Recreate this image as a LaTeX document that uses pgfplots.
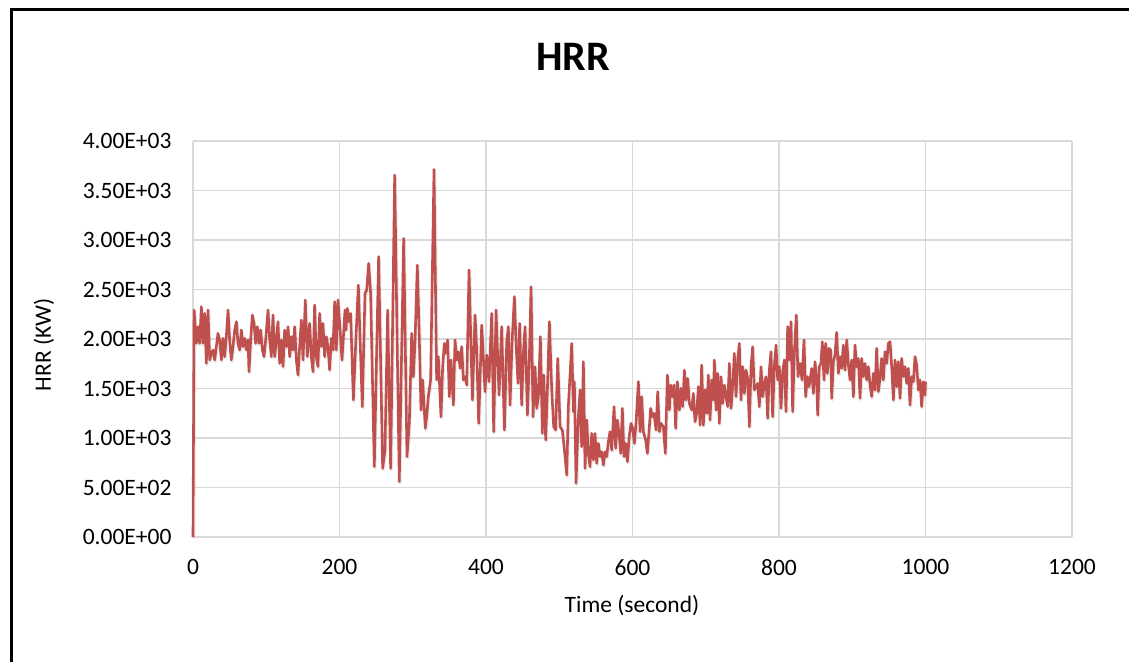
\documentclass[border=0pt]{standalone}
\usepackage{pgfplots}
\pgfplotsset{compat=1.18}
\usepackage{fontspec}
\setmainfont{Carlito}
\definecolor{hrr}{RGB}{192,80,77}
\definecolor{gridc}{RGB}{217,217,217}
\begin{document}
\begin{tikzpicture}[x=1pt,y=1pt]
\useasboundingbox (0,0) rectangle (1129,662);
\draw[line width=3pt] (11,0) -- (11,652) -- (1129,652);
\node[font=\fontsize{42}{48}\selectfont\bfseries] at (573,605) {HRR};
\node[font=\fontsize{23.5}{28}\selectfont, rotate=90] at (44,317) {HRR (KW)};
\node[font=\fontsize{23.5}{28}\selectfont] at (632,56) {Time (second)};
\begin{axis}[
  at={(193pt,125pt)}, anchor=south west,
  scale only axis, width=879pt, height=396pt,
  xmin=0, xmax=1200, ymin=0, ymax=4000,
  xtick={0,200,400,600,800,1000,1200},
  xticklabels={0,200,400,600,800,1000,1200},
  ytick={0,500,1000,1500,2000,2500,3000,3500,4000},
  yticklabels={0.00E+00,5.00E+02,1.00E+03,1.50E+03,2.00E+03,2.50E+03,3.00E+03,3.50E+03,4.00E+03},
  grid=major,
  major grid style={gridc, line width=1.7pt},
  axis line style={draw=none},
  tick style={draw=none},
  ticklabel style={font=\fontsize{23.5}{28}\selectfont},
  xticklabel style={yshift=-19pt},
  yticklabel style={xshift=-18pt},
  clip=false,
]
\addplot[black!25, opacity=0.35, line width=3pt, line join=round, mark=none, transform canvas={xshift=0.8pt,yshift=-1.5pt}] coordinates {
(0,0)(1.5,2293)(4.5,1956)(6.8,2125)(9.1,1956)(11.4,2327)(13.7,1956)(15.9,2259)(18.2,1754)(20.5,2293)
(22.8,1788)(25.0,1855)(27.3,1889)(29.6,1788)(34.1,2057)(36.4,1990)(38.7,1788)(40.9,2007)(43.2,1822)(45.5,2024)
(47.8,2293)(50.0,1990)(52.3,1788)(54.6,1923)(56.9,2091)(59.2,2175)(61.4,1956)(63.7,1889)(66.0,2091)(68.3,1923)
(70.5,2007)(72.8,1889)(75.1,1990)(76.4,1670)(78.7,1990)(81.0,2242)(83.3,2158)(85.5,1956)(87.8,2125)(90.1,1956)
(92.4,2091)(94.7,1889)(96.9,1822)(99.2,1990)(102.4,2293)(104.7,1990)(106.9,1822)(109.2,2242)(111.5,1822)(113.8,1990)
(116.0,2175)(118.3,1754)(120.6,1990)(122.9,1721)(125.1,2091)(127.4,1923)(129.7,2125)(132.0,1822)(134.3,2024)(136.5,1889)
(138.8,2125)(141.1,1788)(143.3,1636)(145.6,1923)(147.9,2192)(150.2,1788)(153.3,2394)(156.0,1822)(159.2,2158)(161.5,1822)
(163.8,1670)(166.0,2343)(168.3,1822)(170.6,1721)(172.9,2259)(175.1,1923)(177.4,2158)(179.7,1822)(182.0,2024)(184.2,1923)
(186.5,1687)(188.8,2007)(191.1,1889)(193.4,2377)(195.6,1889)(197.9,2394)(200.2,2158)(203.4,1788)(207.5,2293)(208.8,2091)
(210.7,2310)(212.9,2175)(215.2,2259)(218.9,1384)(222.5,2024)(225.7,2545)(231.1,1316)(234.8,2461)(237.1,2495)(239.8,2764)
(242.5,2461)(247.5,710)(253.4,2832)(258.9,693)(262.1,879)(265.7,2293)(269.8,693)(275.3,3656)(281.6,559)(287.6,3017)
(292.1,811)(295.3,1148)(298.5,2057)(300.8,1619)(303.0,1956)(306.2,2747)(308.9,2024)(311.2,1283)(313.5,1586)(317.1,1098)
(319.0,1215)(321.2,1417)(324.4,1586)(329.0,3714)(332.6,1586)(334.9,1822)(338.5,1215)(340.8,1720)(343.1,1956)(345.3,1855)
(347.6,1990)(349.9,1417)(352.2,1788)(355.4,1333)(357.7,1990)(360.0,1788)(362.3,1872)(364.6,1704)(366.8,1923)(369.1,1586)
(371.4,1620)(373.7,1535)(376.8,2697)(381.4,1384)(385.0,2242)(387.3,1889)(390.0,1148)(394.1,2141)(398.7,1468)(401.0,1838)
(404.1,1569)(407.8,2259)(410.5,1064)(413.7,2293)(417.8,1434)(421.4,2125)(425.1,1081)(428.3,1973)(430.5,2125)(432.8,1333)
(435.5,1956)(438.7,2428)(441.4,1889)(443.7,1552)(446.0,2158)(448.7,1333)(451.0,1855)(453.3,2125)(456.5,1232)(459.2,1822)
(461.5,2529)(464.2,1215)(466.9,1720)(469.2,1300)(471.5,1418)(474.2,2024)(476.9,1047)(478.8,1636)(481.5,980)(483.8,1485)
(486.5,2175)(489.7,1485)(492.4,1114)(495.1,1081)(497.9,1805)(501.1,1114)(504.2,1081)(507.0,879)(510.2,626)(512.4,1316)
(517.0,1956)(519.3,1266)(520.6,1569)(522.9,542)(526.1,1216)(528.4,1485)(530.6,913)(532.9,1771)(535.2,694)(537.5,1182)
(539.7,845)(542.0,710)(544.3,1047)(546.6,778)(548.8,1047)(551.1,744)(553.4,946)(555.7,812)(557.9,862)(560.2,727)
(562.5,862)(564.8,812)(567.0,963)(569.3,1064)(571.6,879)(574.8,1317)(577.0,896)(579.3,1182)(581.6,1047)(583.9,845)
(586.1,1300)(588.4,812)(590.7,946)(593.0,761)(595.7,1030)(598.0,1148)(600.2,1098)(602.5,946)(604.8,1148)(608.0,1569)
(610.3,1064)(612.5,1418)(614.8,1064)(618.0,980)(620.3,845)(622.5,1064)(624.8,1300)(627.1,1216)(629.4,1249)(632.1,1081)
(634.4,1468)(636.6,1064)(638.9,1148)(642.1,1115)(644.8,845)(647.6,1636)(650.3,1283)(652.1,1535)(654.4,1418)(656.7,1535)
(658.9,1098)(661.2,1569)(664.0,1283)(666.2,1502)(668.5,1317)(670.8,1687)(673.0,1384)(675.3,1603)(677.6,1350)(680.8,1283)
(683.0,1451)(685.3,1165)(687.6,1249)(689.9,1519)(692.2,1131)(694.4,1737)(696.7,1131)(699.0,1485)(701.3,1249)(703.5,1636)
(705.8,1182)(708.1,1586)(710.4,1384)(711.7,1788)(714.0,1283)(716.3,1653)(718.5,1148)(720.8,1620)(723.1,1350)(725.4,1535)
(727.6,1418)(729.9,1317)(732.2,1754)(734.5,1300)(736.7,1519)(739.0,1855)(741.3,1418)(743.6,1788)(745.8,1956)(748.1,1384)
(750.4,1721)(752.7,1451)(754.9,1687)(757.2,1603)(759.5,1115)(761.8,1721)(764.0,1922)(766.3,1485)(768.6,1519)(770.9,1552)
(773.1,1316)(775.4,1721)(777.7,1418)(780.0,1552)(782.2,1620)(784.5,1199)(786.8,1687)(789.1,1872)(791.3,1216)(793.6,1721)
(795.9,1939)(798.2,1586)(800.4,1721)(802.7,1300)(805.0,1670)(807.3,1788)(809.5,1266)(811.8,2125)(814.1,1788)(816.4,2175)
(818.6,1266)(820.9,1855)(823.6,2242)(825.9,1620)(828.7,1754)(831.4,1586)(834.1,1990)(836.4,1418)(838.7,1620)(841.0,1519)
(844.6,1704)(846.9,1451)(849.1,1771)(851.4,1586)(852.8,1232)(855.0,1721)(857.3,1754)(859.1,1973)(861.4,1586)(863.7,1956)
(866.0,1653)(868.2,1906)(870.5,1889)(871.9,1401)(874.2,1771)(876.4,1838)(878.7,2067)(881.0,1653)(883.3,1822)(885.5,1704)
(887.8,1939)(890.1,1687)(892.4,1990)(894.6,1754)(896.9,1586)(899.2,1788)(901.5,1418)(903.7,1939)(906.0,1721)(908.3,1805)
(910.6,1401)(912.8,1805)(915.1,1620)(917.4,1754)(919.7,1586)(921.9,1721)(924.2,1535)(926.5,1418)(928.8,1653)(931.0,1485)
(933.3,1906)(935.6,1468)(937.9,1603)(940.1,1805)(942.4,1586)(944.7,1872)(947.0,1754)(949.2,1956)(951.5,1973)(953.8,1721)
(956.1,1384)(958.3,1788)(960.6,1519)(962.9,1771)(965.2,1401)(967.4,1805)(969.7,1620)(972.0,1721)(974.3,1552)(976.5,1704)
(978.8,1333)(981.1,1620)(983.4,1569)(985.6,1822)(987.9,1737)(990.2,1485)(992.5,1586)(994.7,1317)(997.0,1569)(999.3,1434)
(1000.0,1569)
};
\addplot[hrr, line width=2.6pt, line join=round, mark=none] coordinates {
(0,0)(1.5,2293)(4.5,1956)(6.8,2125)(9.1,1956)(11.4,2327)(13.7,1956)(15.9,2259)(18.2,1754)(20.5,2293)
(22.8,1788)(25.0,1855)(27.3,1889)(29.6,1788)(34.1,2057)(36.4,1990)(38.7,1788)(40.9,2007)(43.2,1822)(45.5,2024)
(47.8,2293)(50.0,1990)(52.3,1788)(54.6,1923)(56.9,2091)(59.2,2175)(61.4,1956)(63.7,1889)(66.0,2091)(68.3,1923)
(70.5,2007)(72.8,1889)(75.1,1990)(76.4,1670)(78.7,1990)(81.0,2242)(83.3,2158)(85.5,1956)(87.8,2125)(90.1,1956)
(92.4,2091)(94.7,1889)(96.9,1822)(99.2,1990)(102.4,2293)(104.7,1990)(106.9,1822)(109.2,2242)(111.5,1822)(113.8,1990)
(116.0,2175)(118.3,1754)(120.6,1990)(122.9,1721)(125.1,2091)(127.4,1923)(129.7,2125)(132.0,1822)(134.3,2024)(136.5,1889)
(138.8,2125)(141.1,1788)(143.3,1636)(145.6,1923)(147.9,2192)(150.2,1788)(153.3,2394)(156.0,1822)(159.2,2158)(161.5,1822)
(163.8,1670)(166.0,2343)(168.3,1822)(170.6,1721)(172.9,2259)(175.1,1923)(177.4,2158)(179.7,1822)(182.0,2024)(184.2,1923)
(186.5,1687)(188.8,2007)(191.1,1889)(193.4,2377)(195.6,1889)(197.9,2394)(200.2,2158)(203.4,1788)(207.5,2293)(208.8,2091)
(210.7,2310)(212.9,2175)(215.2,2259)(218.9,1384)(222.5,2024)(225.7,2545)(231.1,1316)(234.8,2461)(237.1,2495)(239.8,2764)
(242.5,2461)(247.5,710)(253.4,2832)(258.9,693)(262.1,879)(265.7,2293)(269.8,693)(275.3,3656)(281.6,559)(287.6,3017)
(292.1,811)(295.3,1148)(298.5,2057)(300.8,1619)(303.0,1956)(306.2,2747)(308.9,2024)(311.2,1283)(313.5,1586)(317.1,1098)
(319.0,1215)(321.2,1417)(324.4,1586)(329.0,3714)(332.6,1586)(334.9,1822)(338.5,1215)(340.8,1720)(343.1,1956)(345.3,1855)
(347.6,1990)(349.9,1417)(352.2,1788)(355.4,1333)(357.7,1990)(360.0,1788)(362.3,1872)(364.6,1704)(366.8,1923)(369.1,1586)
(371.4,1620)(373.7,1535)(376.8,2697)(381.4,1384)(385.0,2242)(387.3,1889)(390.0,1148)(394.1,2141)(398.7,1468)(401.0,1838)
(404.1,1569)(407.8,2259)(410.5,1064)(413.7,2293)(417.8,1434)(421.4,2125)(425.1,1081)(428.3,1973)(430.5,2125)(432.8,1333)
(435.5,1956)(438.7,2428)(441.4,1889)(443.7,1552)(446.0,2158)(448.7,1333)(451.0,1855)(453.3,2125)(456.5,1232)(459.2,1822)
(461.5,2529)(464.2,1215)(466.9,1720)(469.2,1300)(471.5,1418)(474.2,2024)(476.9,1047)(478.8,1636)(481.5,980)(483.8,1485)
(486.5,2175)(489.7,1485)(492.4,1114)(495.1,1081)(497.9,1805)(501.1,1114)(504.2,1081)(507.0,879)(510.2,626)(512.4,1316)
(517.0,1956)(519.3,1266)(520.6,1569)(522.9,542)(526.1,1216)(528.4,1485)(530.6,913)(532.9,1771)(535.2,694)(537.5,1182)
(539.7,845)(542.0,710)(544.3,1047)(546.6,778)(548.8,1047)(551.1,744)(553.4,946)(555.7,812)(557.9,862)(560.2,727)
(562.5,862)(564.8,812)(567.0,963)(569.3,1064)(571.6,879)(574.8,1317)(577.0,896)(579.3,1182)(581.6,1047)(583.9,845)
(586.1,1300)(588.4,812)(590.7,946)(593.0,761)(595.7,1030)(598.0,1148)(600.2,1098)(602.5,946)(604.8,1148)(608.0,1569)
(610.3,1064)(612.5,1418)(614.8,1064)(618.0,980)(620.3,845)(622.5,1064)(624.8,1300)(627.1,1216)(629.4,1249)(632.1,1081)
(634.4,1468)(636.6,1064)(638.9,1148)(642.1,1115)(644.8,845)(647.6,1636)(650.3,1283)(652.1,1535)(654.4,1418)(656.7,1535)
(658.9,1098)(661.2,1569)(664.0,1283)(666.2,1502)(668.5,1317)(670.8,1687)(673.0,1384)(675.3,1603)(677.6,1350)(680.8,1283)
(683.0,1451)(685.3,1165)(687.6,1249)(689.9,1519)(692.2,1131)(694.4,1737)(696.7,1131)(699.0,1485)(701.3,1249)(703.5,1636)
(705.8,1182)(708.1,1586)(710.4,1384)(711.7,1788)(714.0,1283)(716.3,1653)(718.5,1148)(720.8,1620)(723.1,1350)(725.4,1535)
(727.6,1418)(729.9,1317)(732.2,1754)(734.5,1300)(736.7,1519)(739.0,1855)(741.3,1418)(743.6,1788)(745.8,1956)(748.1,1384)
(750.4,1721)(752.7,1451)(754.9,1687)(757.2,1603)(759.5,1115)(761.8,1721)(764.0,1922)(766.3,1485)(768.6,1519)(770.9,1552)
(773.1,1316)(775.4,1721)(777.7,1418)(780.0,1552)(782.2,1620)(784.5,1199)(786.8,1687)(789.1,1872)(791.3,1216)(793.6,1721)
(795.9,1939)(798.2,1586)(800.4,1721)(802.7,1300)(805.0,1670)(807.3,1788)(809.5,1266)(811.8,2125)(814.1,1788)(816.4,2175)
(818.6,1266)(820.9,1855)(823.6,2242)(825.9,1620)(828.7,1754)(831.4,1586)(834.1,1990)(836.4,1418)(838.7,1620)(841.0,1519)
(844.6,1704)(846.9,1451)(849.1,1771)(851.4,1586)(852.8,1232)(855.0,1721)(857.3,1754)(859.1,1973)(861.4,1586)(863.7,1956)
(866.0,1653)(868.2,1906)(870.5,1889)(871.9,1401)(874.2,1771)(876.4,1838)(878.7,2067)(881.0,1653)(883.3,1822)(885.5,1704)
(887.8,1939)(890.1,1687)(892.4,1990)(894.6,1754)(896.9,1586)(899.2,1788)(901.5,1418)(903.7,1939)(906.0,1721)(908.3,1805)
(910.6,1401)(912.8,1805)(915.1,1620)(917.4,1754)(919.7,1586)(921.9,1721)(924.2,1535)(926.5,1418)(928.8,1653)(931.0,1485)
(933.3,1906)(935.6,1468)(937.9,1603)(940.1,1805)(942.4,1586)(944.7,1872)(947.0,1754)(949.2,1956)(951.5,1973)(953.8,1721)
(956.1,1384)(958.3,1788)(960.6,1519)(962.9,1771)(965.2,1401)(967.4,1805)(969.7,1620)(972.0,1721)(974.3,1552)(976.5,1704)
(978.8,1333)(981.1,1620)(983.4,1569)(985.6,1822)(987.9,1737)(990.2,1485)(992.5,1586)(994.7,1317)(997.0,1569)(999.3,1434)
(1000.0,1569)
};
\end{axis}
\end{tikzpicture}
\end{document}
